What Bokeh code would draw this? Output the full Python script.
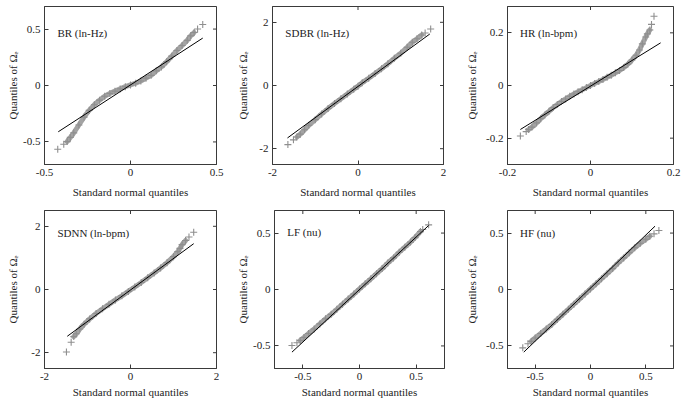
import math
from bokeh.plotting import figure
from bokeh.layouts import column, row
from bokeh.models import Label, FixedTicker, Range1d
from bokeh.embed import file_html
from bokeh.resources import INLINE

# ---------------- data ----------------
titles = ["BR (ln-Hz)", "SDBR (ln-Hz)", "HR (ln-bpm)", "SDNN (ln-bpm)", "LF (nu)", "HF (nu)"]

br_x = [-0.423, -0.388, -0.368, -0.35, -0.33, -0.30, -0.27, -0.24, -0.21, -0.18, -0.15, -0.12,
        -0.09, -0.06, -0.03, 0.0, 0.03, 0.06, 0.09, 0.12, 0.15, 0.18, 0.21, 0.24, 0.27, 0.30,
        0.33, 0.35, 0.37, 0.39, 0.42]
br_y = [-0.565, -0.52, -0.497, -0.46, -0.42, -0.35, -0.28, -0.22, -0.17, -0.13, -0.095, -0.07,
        -0.05, -0.03, -0.01, 0.005, 0.02, 0.04, 0.065, 0.09, 0.13, 0.165, 0.21, 0.26, 0.31, 0.355,
        0.40, 0.44, 0.47, 0.50, 0.54]
br_fit_x = [-0.42, 0.42]
br_fit_y = [-0.41, 0.42]

sdbr_x = [-1.64, -1.51, -1.43, -1.35, -1.25, -1.15, -1.0, -0.85, -0.7, -0.55, -0.4, -0.25, -0.1,
          0.0, 0.1, 0.25, 0.4, 0.55, 0.7, 0.85, 1.0, 1.15, 1.27, 1.38, 1.49, 1.57, 1.70]
sdbr_y = [-1.87, -1.72, -1.63, -1.54, -1.40, -1.26, -1.08, -0.90, -0.73, -0.57, -0.42, -0.27, -0.12,
          -0.02, 0.09, 0.23, 0.38, 0.53, 0.69, 0.86, 1.02, 1.21, 1.37, 1.48, 1.60, 1.66, 1.79]
sdbr_fit_x = [-1.65, 1.68]
sdbr_fit_y = [-1.66, 1.63]

hr_x = [-0.169, -0.155, -0.149, -0.141, -0.13, -0.12, -0.11, -0.10, -0.09, -0.08, -0.07, -0.06,
        -0.05, -0.04, -0.03, -0.02, -0.01, 0.0, 0.01, 0.02, 0.03, 0.04, 0.05, 0.06, 0.07, 0.08,
        0.09, 0.10, 0.11, 0.118, 0.125, 0.133, 0.137, 0.143, 0.147, 0.153]
hr_y = [-0.192, -0.175, -0.167, -0.158, -0.142, -0.126, -0.112, -0.098, -0.084, -0.072, -0.061, -0.051,
        -0.041, -0.032, -0.024, -0.016, -0.008, 0.0, 0.008, 0.015, 0.023, 0.031, 0.039, 0.048, 0.057, 0.068,
        0.081, 0.097, 0.115, 0.135, 0.158, 0.184, 0.196, 0.211, 0.232, 0.263]
hr_fit_x = [-0.169, 0.169]
hr_fit_y = [-0.167, 0.162]

sdnn_x = [-1.49, -1.38, -1.32, -1.26, -1.18, -1.08, -0.95, -0.8, -0.65, -0.5, -0.35, -0.2, -0.05,
          0.1, 0.25, 0.4, 0.55, 0.7, 0.85, 1.0, 1.1, 1.15, 1.20, 1.28, 1.36, 1.47]
sdnn_y = [-1.98, -1.67, -1.49, -1.40, -1.25, -1.10, -0.93, -0.76, -0.61, -0.47, -0.33, -0.20, -0.06,
          0.08, 0.22, 0.37, 0.52, 0.68, 0.85, 1.04, 1.20, 1.30, 1.42, 1.55, 1.66, 1.81]
sdnn_fit_x = [-1.47, 1.47]
sdnn_fit_y = [-1.48, 1.45]

lf_x = [-0.596, -0.552, -0.523, -0.49, -0.45, -0.40, -0.35, -0.30, -0.25, -0.20, -0.15, -0.10, -0.05,
        0.0, 0.05, 0.10, 0.15, 0.20, 0.25, 0.30, 0.35, 0.40, 0.45, 0.49, 0.538, 0.558, 0.61]
lf_y = [-0.496, -0.472, -0.452, -0.425, -0.39, -0.35, -0.305, -0.26, -0.22, -0.175, -0.13, -0.085, -0.04,
        0.005, 0.05, 0.095, 0.14, 0.185, 0.235, 0.28, 0.33, 0.375, 0.42, 0.46, 0.514, 0.531, 0.573]
lf_fit_x = [-0.596, 0.61]
lf_fit_y = [-0.555, 0.567]

hf_x = [-0.612, -0.565, -0.536, -0.50, -0.45, -0.40, -0.35, -0.30, -0.25, -0.20, -0.15, -0.10, -0.05,
        0.0, 0.05, 0.10, 0.15, 0.20, 0.25, 0.30, 0.35, 0.40, 0.45, 0.50, 0.536, 0.574, 0.618]
hf_y = [-0.517, -0.481, -0.46, -0.43, -0.39, -0.35, -0.31, -0.265, -0.22, -0.175, -0.13, -0.085, -0.04,
        0.005, 0.05, 0.095, 0.14, 0.185, 0.235, 0.28, 0.325, 0.37, 0.41, 0.445, 0.472, 0.493, 0.523]
hf_fit_x = [-0.603, 0.583]
hf_fit_y = [-0.555, 0.561]

ticks_05 = [-0.5, 0.0, 0.5]
ticks_2 = [-2.0, 0.0, 2.0]
ticks_02 = [-0.2, 0.0, 0.2]
labels_05 = ["-0.5", "0", "0.5"]
labels_2 = ["-2", "0", "2"]
labels_02 = ["-0.2", "0", "0.2"]

x_label = "Standard normal quantiles"
y_label = "Quantiles of \u03a9\u2091"

# ---------------- style ----------------
FONT = "Liberation Serif"
FS = "11px"
TXT = "#222222"
FRAME = "#3a3a3a"
CROSS = "#8f8f8f"
BAND = "#a3a3a3"


def panel(title, qx, qy, fx, fy, xr, yr, xt, xl, yt, yl, width, height,
          bl, br, bt, bb, y_als, x_als, ty):
    p = figure(width=width, height=height, x_range=Range1d(*xr), y_range=Range1d(*yr),
               output_backend="svg", toolbar_location=None,
               min_border_left=bl, min_border_right=br, min_border_top=bt, min_border_bottom=bb)
    p.xgrid.visible = False
    p.ygrid.visible = False
    p.outline_line_color = FRAME
    p.outline_line_width = 1
    p.background_fill_color = "white"
    p.border_fill_color = "white"

    p.xaxis.ticker = FixedTicker(ticks=xt)
    p.xaxis.major_label_overrides = {v: s for v, s in zip(xt, xl)}
    p.yaxis.ticker = FixedTicker(ticks=yt)
    p.yaxis.major_label_overrides = {v: s for v, s in zip(yt, yl)}
    p.xaxis.axis_label = x_label
    p.yaxis.axis_label = y_label
    p.xaxis.axis_label_standoff = x_als
    p.yaxis.axis_label_standoff = y_als
    for ax in (p.xaxis[0], p.yaxis[0]):
        ax.major_tick_in = 4
        ax.major_tick_out = 0
        ax.minor_tick_line_color = None
        ax.axis_line_color = FRAME
        ax.major_tick_line_color = FRAME
        ax.major_label_standoff = 4
        ax.major_label_text_font = FONT
        ax.major_label_text_font_size = FS
        ax.major_label_text_font_style = "normal"
        ax.major_label_text_color = TXT
        ax.axis_label_text_font = FONT
        ax.axis_label_text_font_size = FS
        ax.axis_label_text_font_style = "normal"
        ax.axis_label_text_color = TXT

    # short inner tick marks on the top and right edges of the box, at the same tick values
    p.scatter(xt, [yr[1]] * len(xt), marker="dash", angle=math.pi / 2, size=7,
              line_color=FRAME, line_width=1)
    p.scatter([xr[1]] * len(yt), yt, marker="dash", size=7, line_color=FRAME, line_width=1)

    # dense part of the quantile band, then the individual crosses, then the fit line
    p.line(qx[2:-2], qy[2:-2], line_color=BAND, line_width=5, line_cap="round", line_join="round")
    p.scatter(qx, qy, marker="cross", size=7, line_color=CROSS, line_width=1.1)
    p.line(fx, fy, line_color="black", line_width=1)

    lab = Label(x=xr[0] + 0.075 * (xr[1] - xr[0]), y=yr[1] - ty * (yr[1] - yr[0]),
                text=title, text_font=FONT, text_font_size=FS, text_color=TXT,
                text_baseline="middle", text_align="left")
    p.add_layout(lab)
    return p


p1 = panel(titles[0], br_x, br_y, br_fit_x, br_fit_y, (-0.5, 0.5), (-0.7, 0.7),
           ticks_05, labels_05, ticks_05, labels_05, 234, 200, 44, 18, 6, 36, 1, 7, 0.17)
p2 = panel(titles[1], sdbr_x, sdbr_y, sdbr_fit_x, sdbr_fit_y, (-2, 2), (-2.5, 2.5),
           ticks_2, labels_2, ticks_2, labels_2, 229, 200, 38, 20, 6, 36, 7, 7, 0.167)
p3 = panel(titles[2], hr_x, hr_y, hr_fit_x, hr_fit_y, (-0.2, 0.2), (-0.3, 0.3),
           ticks_02, labels_02, ticks_02, labels_02, 224, 200, 40, 14, 6, 36, 5, 7, 0.167)
p4 = panel(titles[3], sdnn_x, sdnn_y, sdnn_fit_x, sdnn_fit_y, (-2, 2), (-2.5, 2.5),
           ticks_2, labels_2, ticks_2, labels_2, 234, 206, 44, 18, 10, 38, 9, 3, 0.141)
p5 = panel(titles[4], lf_x, lf_y, lf_fit_x, lf_fit_y, (-0.75, 0.75), (-0.7, 0.7),
           ticks_05, labels_05, ticks_05, labels_05, 229, 206, 38, 19, 10, 38, 1, 3, 0.137)
p6 = panel(titles[5], hf_x, hf_y, hf_fit_x, hf_fit_y, (-0.75, 0.75), (-0.7, 0.7),
           ticks_05, labels_05, ticks_05, labels_05, 224, 206, 40, 14, 10, 38, 5, 3, 0.141)

layout = column(row(p1, p2, p3, spacing=0), row(p4, p5, p6, spacing=0), spacing=0)

open("out.html", "w").write(file_html(layout, INLINE))
